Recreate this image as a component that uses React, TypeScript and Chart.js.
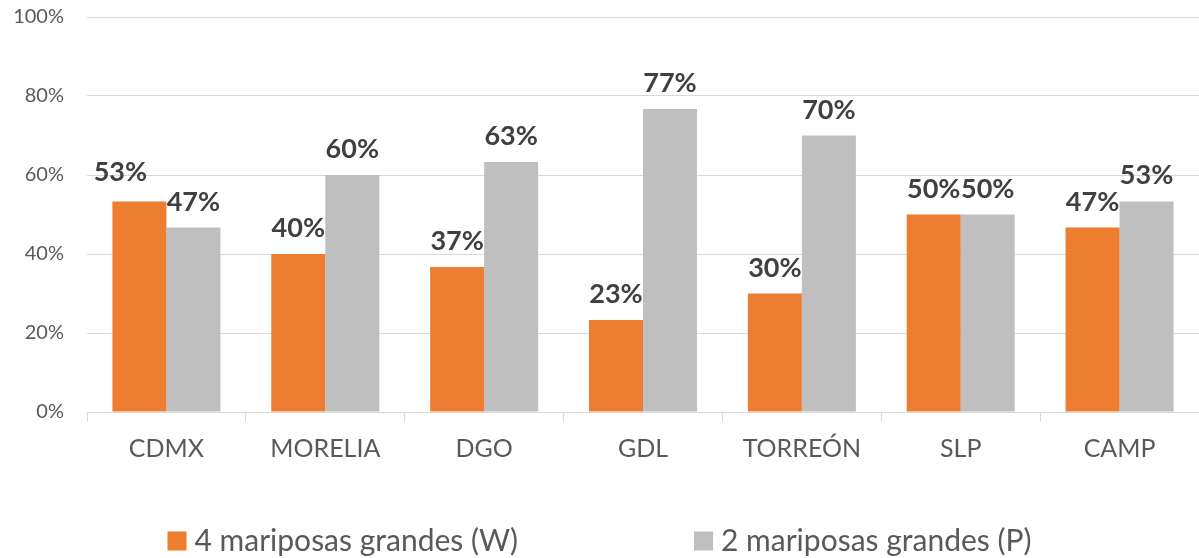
import React, { useEffect, useRef } from "react";
import { Chart, registerables } from "chart.js";

Chart.register(...registerables);

const categories = ["CDMX", "MORELIA", "DGO", "GDL", "TORREÓN", "SLP", "CAMP"];
const seriesW = [53.3, 40.0, 36.7, 23.3, 30.0, 50.0, 46.7];
const seriesP = [46.7, 60.0, 63.3, 76.7, 70.0, 50.0, 53.3];
const seriesNames = ["4 mariposas grandes (W)", "2 mariposas grandes (P)"];
const yTicks = [0, 20, 40, 60, 80, 100];

const FONT = "Lato, 'Noto Sans', sans-serif";

// manual label nudges (like a hand-moved label in the original): key "dataset-index"
const labelNudges: Record<string, { dx: number; dy: number }> = {
  "0-0": { dx: -19, dy: -3 },
};

const dataLabelPlugin = {
  id: "dataLabels",
  afterDatasetsDraw(chart: any) {
    const ctx = chart.ctx;
    ctx.save();
    ctx.font = `bold 27px ${FONT}`;
    ctx.fillStyle = "#404040";
    ctx.textAlign = "center";
    ctx.textBaseline = "alphabetic";
    chart.data.datasets.forEach((ds: any, i: number) => {
      const meta = chart.getDatasetMeta(i);
      meta.data.forEach((el: any, j: number) => {
        const n = labelNudges[`${i}-${j}`] || { dx: 0, dy: 0 };
        ctx.fillText(Math.round(ds.data[j]) + "%", el.x + n.dx, el.y - 17 + n.dy);
      });
    });
    ctx.restore();
  },
};

const legendPlugin = {
  id: "customLegend",
  afterDraw(chart: any) {
    const ctx = chart.ctx;
    ctx.save();
    ctx.font = `30px ${FONT}`;
    const box = 19;
    const boxGap = 8;
    const itemGap = 176;
    const items = chart.data.datasets.map((ds: any) => ({
      label: ds.label,
      color: ds.backgroundColor,
      w: ctx.measureText(ds.label).width,
    }));
    const total =
      items.reduce((s: number, it: any) => s + box + boxGap + it.w, 0) +
      itemGap * (items.length - 1);
    let x = (chart.width - total) / 2;
    const cy = 541;
    items.forEach((it: any) => {
      ctx.fillStyle = it.color;
      ctx.fillRect(x, cy - 9.5, box, 19);
      ctx.fillStyle = "#595959";
      ctx.textBaseline = "middle";
      ctx.textAlign = "left";
      ctx.fillText(it.label, x + box + boxGap, cy);
      x += box + boxGap + it.w + itemGap;
    });
    ctx.restore();
  },
};

export default function App() {
  const ref = useRef<HTMLCanvasElement>(null);
  useEffect(() => {
    if (!ref.current) return;
    const chart = new Chart(ref.current, {
      type: "bar",
      data: {
        labels: categories,
        datasets: [
          {
            label: seriesNames[0],
            data: seriesW,
            backgroundColor: "#ED7D31",
            categoryPercentage: 0.68,
            barPercentage: 1,
          },
          {
            label: seriesNames[1],
            data: seriesP,
            backgroundColor: "#BFBFBF",
            categoryPercentage: 0.68,
            barPercentage: 1,
          },
        ],
      },
      options: {
        responsive: false,
        animation: false,
        layout: { padding: { top: 17, left: 0, right: 0, bottom: 0 } },
        plugins: { legend: { display: false }, tooltip: { enabled: false } },
        scales: {
          x: {
            afterFit: (s: any) => {
              s.height = 146;
              s.paddingLeft = 0;
              s.paddingRight = 0;
            },
            grid: {
              drawOnChartArea: false,
              drawTicks: true,
              tickLength: 10,
              color: "#D9D9D9",
              offset: true,
            },
            border: { display: true, color: "#D9D9D9" },
            ticks: {
              color: "#595959",
              font: { family: FONT, size: 25 },
              padding: 12,
            },
          },
          y: {
            min: 0,
            max: 100,
            afterFit: (s: any) => {
              s.width = 87;
              s.paddingTop = 0;
              s.paddingBottom = 0;
            },
            afterBuildTicks: (s: any) => {
              s.ticks = yTicks.map((v) => ({ value: v }));
            },
            grid: { drawTicks: false, color: "#D9D9D9" },
            border: { display: false },
            ticks: {
              color: "#595959",
              font: { family: FONT, size: 20 },
              padding: 23,
              callback: (v: any) => v + "%",
            },
          },
        },
      },
      plugins: [dataLabelPlugin, legendPlugin],
    });
    return () => chart.destroy();
  }, []);
  return (
    <div style={{ position: "fixed", left: 0, top: 0, background: "#fff" }}>
      <canvas ref={ref} width={1199} height={558} style={{ display: "block" }} />
    </div>
  );
}
